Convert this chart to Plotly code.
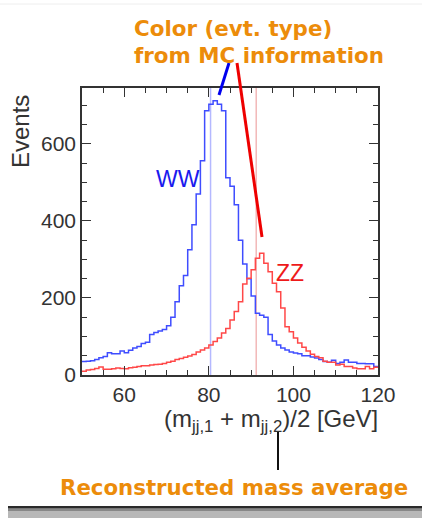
import plotly.graph_objects as go

# ---- data ----
bin_lo = 50
bin_width = 1
ww_counts = [35, 36, 37, 40, 45, 48, 58, 55, 55, 62,
             58, 64, 70, 74, 82, 85, 105, 110, 114, 118,
             128, 150, 190, 232, 258, 325, 390, 470, 556, 686,
             703, 712, 703, 686, 512, 490, 442, 350, 288, 250,
             205, 160, 155, 150, 105, 88, 78, 70, 65, 60,
             57, 55, 50, 50, 47, 44, 40, 35, 33, 38,
             30, 33, 39, 33, 33, 30, 30, 29, 29, 22]
zz_counts = [10, 13, 14, 17, 21, 15, 15, 16, 18, 17,
             16, 19, 20, 22, 24, 24, 26, 27, 28, 30,
             33, 36, 40, 43, 46, 49, 53, 60, 65, 70,
             78, 87, 96, 109, 121, 143, 165, 190, 236, 251,
             273, 303, 316, 290, 268, 238, 216, 174, 125, 112,
             96, 83, 72, 62, 54, 48, 45, 36, 33, 33,
             26, 28, 22, 22, 18, 16, 16, 22, 16, 20]
m_w = 80.4
m_z = 91.2
x_range = [50, 120]
y_range = [0, 745]
x_ticks = [60, 80, 100, 120]
y_ticks = [0, 200, 400, 600]

edges = [bin_lo + i * bin_width for i in range(len(ww_counts) + 1)]

# ---- geometry helpers (pixel -> paper) ----
W, H = 422, 518
L, R, T, B = 82, 378, 88, 375


def px(x):
    return (x - L) / (R - L)


def py(y):
    return (B - y) / (B - T)


ORANGE = "#EC8C0A"
AX = "#333333"

fig = go.Figure()
fig.add_trace(go.Scatter(x=edges, y=ww_counts + [ww_counts[-1]], mode="lines",
                         line=dict(color="#3f4dff", width=1.5, shape="hv"),
                         showlegend=False, hoverinfo="skip"))
fig.add_trace(go.Scatter(x=edges, y=zz_counts + [zz_counts[-1]], mode="lines",
                         line=dict(color="#ff4848", width=1.5, shape="hv"),
                         showlegend=False, hoverinfo="skip"))

shapes = [
    dict(type="line", xref="x", yref="paper", x0=m_w, x1=m_w, y0=0, y1=1,
         line=dict(color="#b4b8ff", width=1.5), layer="below"),
    dict(type="line", xref="x", yref="paper", x0=m_z, x1=m_z, y0=0, y1=1,
         line=dict(color="#f2b8b8", width=1.5), layer="below"),
    # pointer lines
    dict(type="line", xref="paper", yref="paper", x0=px(229), y0=py(63), x1=px(219), y1=py(95),
         line=dict(color="#0000ee", width=3)),
    dict(type="line", xref="paper", yref="paper", x0=px(237), y0=py(63), x1=px(262), y1=py(237),
         line=dict(color="#ee0000", width=3)),
    dict(type="line", xref="paper", yref="paper", x0=px(278), y0=py(431), x1=px(278), y1=py(470),
         line=dict(color="#111111", width=2)),
    # slide frame: faint top line and bottom shadow
    dict(type="line", xref="paper", yref="paper", x0=px(0), y0=py(4), x1=px(422), y1=py(4),
         line=dict(color="#eeeeee", width=1)),
    dict(type="rect", xref="paper", yref="paper", x0=px(8), y0=py(511), x1=px(422), y1=py(518),
         line=dict(width=0), fillcolor="#b8b8b8"),
    dict(type="rect", xref="paper", yref="paper", x0=px(8), y0=py(508.5), x1=px(422), y1=py(511),
         line=dict(width=0), fillcolor="#888888"),
    dict(type="rect", xref="paper", yref="paper", x0=px(8), y0=py(506), x1=px(422), y1=py(508.5),
         line=dict(width=0), fillcolor="#2a2a2a"),
]

annotations = [
    dict(text="<b>Color (evt. type)</b>", x=px(132), y=py(29), xanchor="left", yanchor="middle",
         font=dict(family="DejaVu Sans", size=21.4, color=ORANGE)),
    dict(text="<b>from MC information</b>", x=px(132), y=py(55), xanchor="left", yanchor="middle",
         font=dict(family="DejaVu Sans", size=21.4, color=ORANGE)),
    dict(text="<b>Reconstructed mass average</b>", x=px(410), y=py(487), xanchor="right", yanchor="middle",
         font=dict(family="DejaVu Sans", size=21.3, color=ORANGE)),
    dict(text="WW", x=px(154), y=py(179), xanchor="left", yanchor="middle",
         font=dict(family="Liberation Sans", size=23, color="#1a1aee")),
    dict(text="ZZ", x=px(274), y=py(273), xanchor="left", yanchor="middle",
         font=dict(family="Liberation Sans", size=23, color="#ee1a1a")),
    dict(text="Events", x=px(20), y=py(132), xanchor="center", yanchor="middle", textangle=-90,
         font=dict(family="Liberation Sans", size=24, color=AX)),
    dict(text="(m<sub>jj,1</sub> + m<sub>jj,2</sub>)/2 [GeV]", x=px(380), y=py(420),
         xanchor="right", yanchor="middle",
         font=dict(family="Liberation Sans", size=24, color=AX)),
]
for a in annotations:
    a.update(xref="paper", yref="paper", showarrow=False)

axis_common = dict(showgrid=False, zeroline=False, showline=True, linecolor=AX, linewidth=1.5,
                   mirror="allticks", ticks="inside", ticklen=9, tickwidth=1.2, tickcolor=AX,
                   tickfont=dict(family="Liberation Sans", size=21, color=AX))

fig.update_layout(
    width=W, height=H,
    margin=dict(l=L, r=W - R, t=T, b=H - B),
    paper_bgcolor="white", plot_bgcolor="white",
    xaxis=dict(range=x_range, tickmode="array", tickvals=x_ticks,
               minor=dict(dtick=5, tick0=0, ticks="inside", ticklen=5, tickcolor=AX, showgrid=False),
               **axis_common),
    yaxis=dict(range=y_range, tickmode="array", tickvals=y_ticks,
               minor=dict(dtick=50, tick0=0, ticks="inside", ticklen=5, tickcolor=AX, showgrid=False),
               **axis_common),
    shapes=shapes,
    annotations=annotations,
)

fig.write_html("out.html")
